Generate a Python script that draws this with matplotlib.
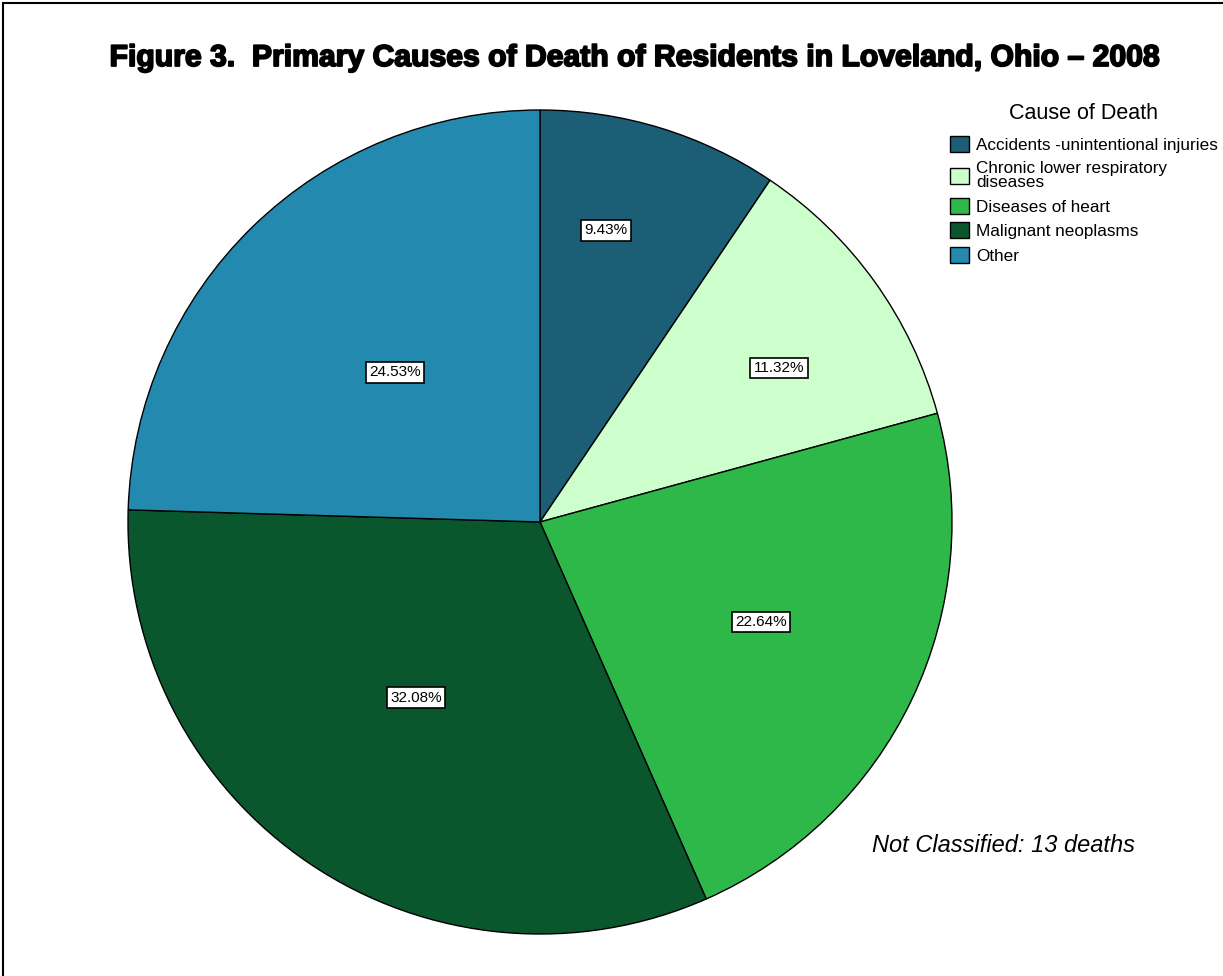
import numpy as np
import matplotlib
matplotlib.use('Agg')
import matplotlib.pyplot as plt
import matplotlib.patheffects as pe

# data
causes = ['Accidents -unintentional injuries', 'Chronic lower respiratory\ndiseases',
          'Diseases of heart', 'Malignant neoplasms', 'Other']
shares = [9.43, 11.32, 22.64, 32.08, 24.53]
colors = ['#1C5E75', '#CCFFCC', '#2EB84A', '#0A572E', '#2489AF']
# where each % box sits: fraction of radius, and degrees off the slice middle
label_dist = [0.726, 0.69, 0.589, 0.522, 0.506]
label_shift = [4.3, -2.9, 1.1, -1.3, 0.0]

W, H = 1223, 976
plt.rcParams['font.family'] = ['Liberation Sans', 'DejaVu Sans']

fig = plt.figure(figsize=(W / 100, H / 100), dpi=100)
ax = fig.add_axes([0, 0, 1, 1])

cx, cy, r = 540, H - 522, 412
wedges, _ = ax.pie(shares, colors=colors, startangle=90, counterclock=False,
                   center=(cx, cy), radius=r, frame=True,
                   wedgeprops=dict(edgecolor='black', linewidth=1.0))
ax.set_xlim(0, W)
ax.set_ylim(0, H)
ax.set_aspect('auto')
ax.axis('off')

for w, val, d, s in zip(wedges, shares, label_dist, label_shift):
    ang = np.deg2rad((w.theta1 + w.theta2) / 2 + s)
    ax.text(cx + d * r * np.cos(ang), cy + d * r * np.sin(ang), f'{val:.2f}%',
            ha='center', va='center', fontsize=11,
            bbox=dict(boxstyle='square,pad=0.22', facecolor='white',
                      edgecolor='black', linewidth=1.2))

title = fig.text(634 / W, 1 - 58 / H,
                 'Figure 3.  Primary Causes of Death of Residents in Loveland, Ohio \u2013 2008',
                 ha='center', va='center', fontsize=21.7, fontweight='bold')
title.set_path_effects([pe.withStroke(linewidth=1.3, foreground='black')])

leg = ax.legend(wedges, causes, title='Cause of Death', loc='upper right',
                bbox_to_anchor=(1218 / W, 1 - 103 / H), bbox_transform=fig.transFigure,
                frameon=False, fontsize=12.3, title_fontsize=15.5,
                handlelength=1.15, handleheight=1.05, handletextpad=0.4,
                labelspacing=0.45, borderaxespad=0.0, borderpad=0.0)
leg._legend_box.sep = 9
for t in leg.get_texts():
    t.set_linespacing(0.95)

ax.text(1003, H - 845, 'Not Classified: 13 deaths', ha='center', va='center',
        fontsize=17, style='italic')

# page frame: left and top edges only
fig.add_artist(plt.Line2D([3 / W, 3 / W], [0, 1 - 3 / H], color='black', linewidth=1.5,
                          transform=fig.transFigure))
fig.add_artist(plt.Line2D([3 / W, 1], [1 - 3 / H, 1 - 3 / H], color='black', linewidth=1.5,
                          transform=fig.transFigure))

fig.savefig('out.png', dpi=100)
